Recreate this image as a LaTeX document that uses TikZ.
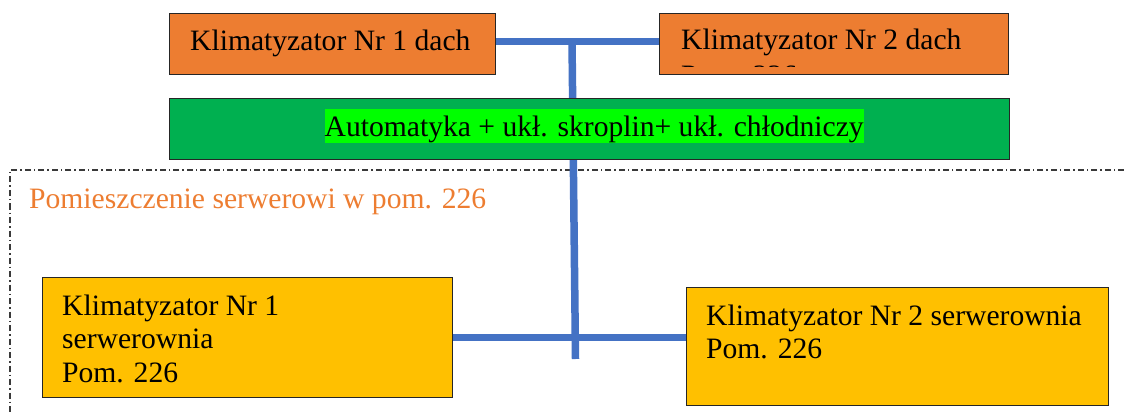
\documentclass[tikz,border=0pt]{standalone}
\usepackage{fontspec}
\setmainfont{Liberation Serif}
\definecolor{roof}{HTML}{ED7D31}
\definecolor{ctrl}{HTML}{00B050}
\definecolor{hili}{HTML}{00FF00}
\definecolor{unit}{HTML}{FFC000}
\definecolor{pipe}{HTML}{4472C4}
\definecolor{frame}{HTML}{3A3A3A}
\begin{document}
\begin{tikzpicture}[x=1pt,y=-1pt,
  box/.style={draw=black!85, line width=1.4pt, inner sep=0pt, anchor=north west},
  txt/.style={anchor=base west, inner sep=0pt, font=\fontsize{29.6}{34}\selectfont},
  pipeline/.style={draw=pipe, line width=7.5pt},
  room/.style={draw=frame, line width=1.3pt, dash pattern=on 6pt off 3pt on 1.5pt off 3pt}]
\useasboundingbox (0,0) rectangle (1124,414);
% room frame
\draw[room] (1124,170) -- (10,170) -- (10,414);
\node[txt, text=roof] (room) at (29,208) {Pomieszczenie serwerowi w pom. 226};
% boxes
\node[box, fill=roof, minimum width=326pt, minimum height=61pt] (r1) at (169,13) {};
\node[box, fill=roof, minimum width=349pt, minimum height=61pt] (r2) at (659,13) {};
\node[box, fill=unit, minimum width=410pt, minimum height=120pt] (s1) at (42,277) {};
\node[box, fill=unit, minimum width=422pt, minimum height=118pt] (s2) at (686,287) {};
% texts
\node[txt] (r1t) at (190,51) {Klimatyzator Nr 1 dach};
\node[txt] (r2t) at (681,50) {Klimatyzator Nr 2 dach};
\begin{scope}
  \clip (660,14) rectangle (1007,67);
  \node[txt] (r2t2) at (681,85.5) {Pom. 226};
\end{scope}
\node[txt, align=left] (s1a) at (62,315) {Klimatyzator Nr 1};
\node[txt] (s1b) at (62,348) {serwerownia};
\node[txt] (s1c) at (62,382) {Pom. 226};
\node[txt] (s2a) at (706,325) {Klimatyzator Nr 2 serwerownia};
\node[txt] (s2b) at (706,358) {Pom. 226};
% pipes
\coordinate (top) at (572,41.5);
\coordinate (bot) at (575.5,359);
\coordinate (cross) at (575,337.5);
\draw[pipeline] (r1.east |- top) -- (r2.west |- top);
\draw[pipeline] (top) -- (bot);
\draw[pipeline] (s1.east |- cross) -- (s2.west |- cross);
% control box drawn over the pipe
\node[box, fill=ctrl, minimum width=840pt, minimum height=61pt] (ac) at (169,98) {};
\node[txt, anchor=base west, fill=hili, inner ysep=0pt, text height=28pt, text depth=6pt] (act) at (324.5,137) {Automatyka + ukł. skroplin+ ukł. chłodniczy};
\end{tikzpicture}
\end{document}
